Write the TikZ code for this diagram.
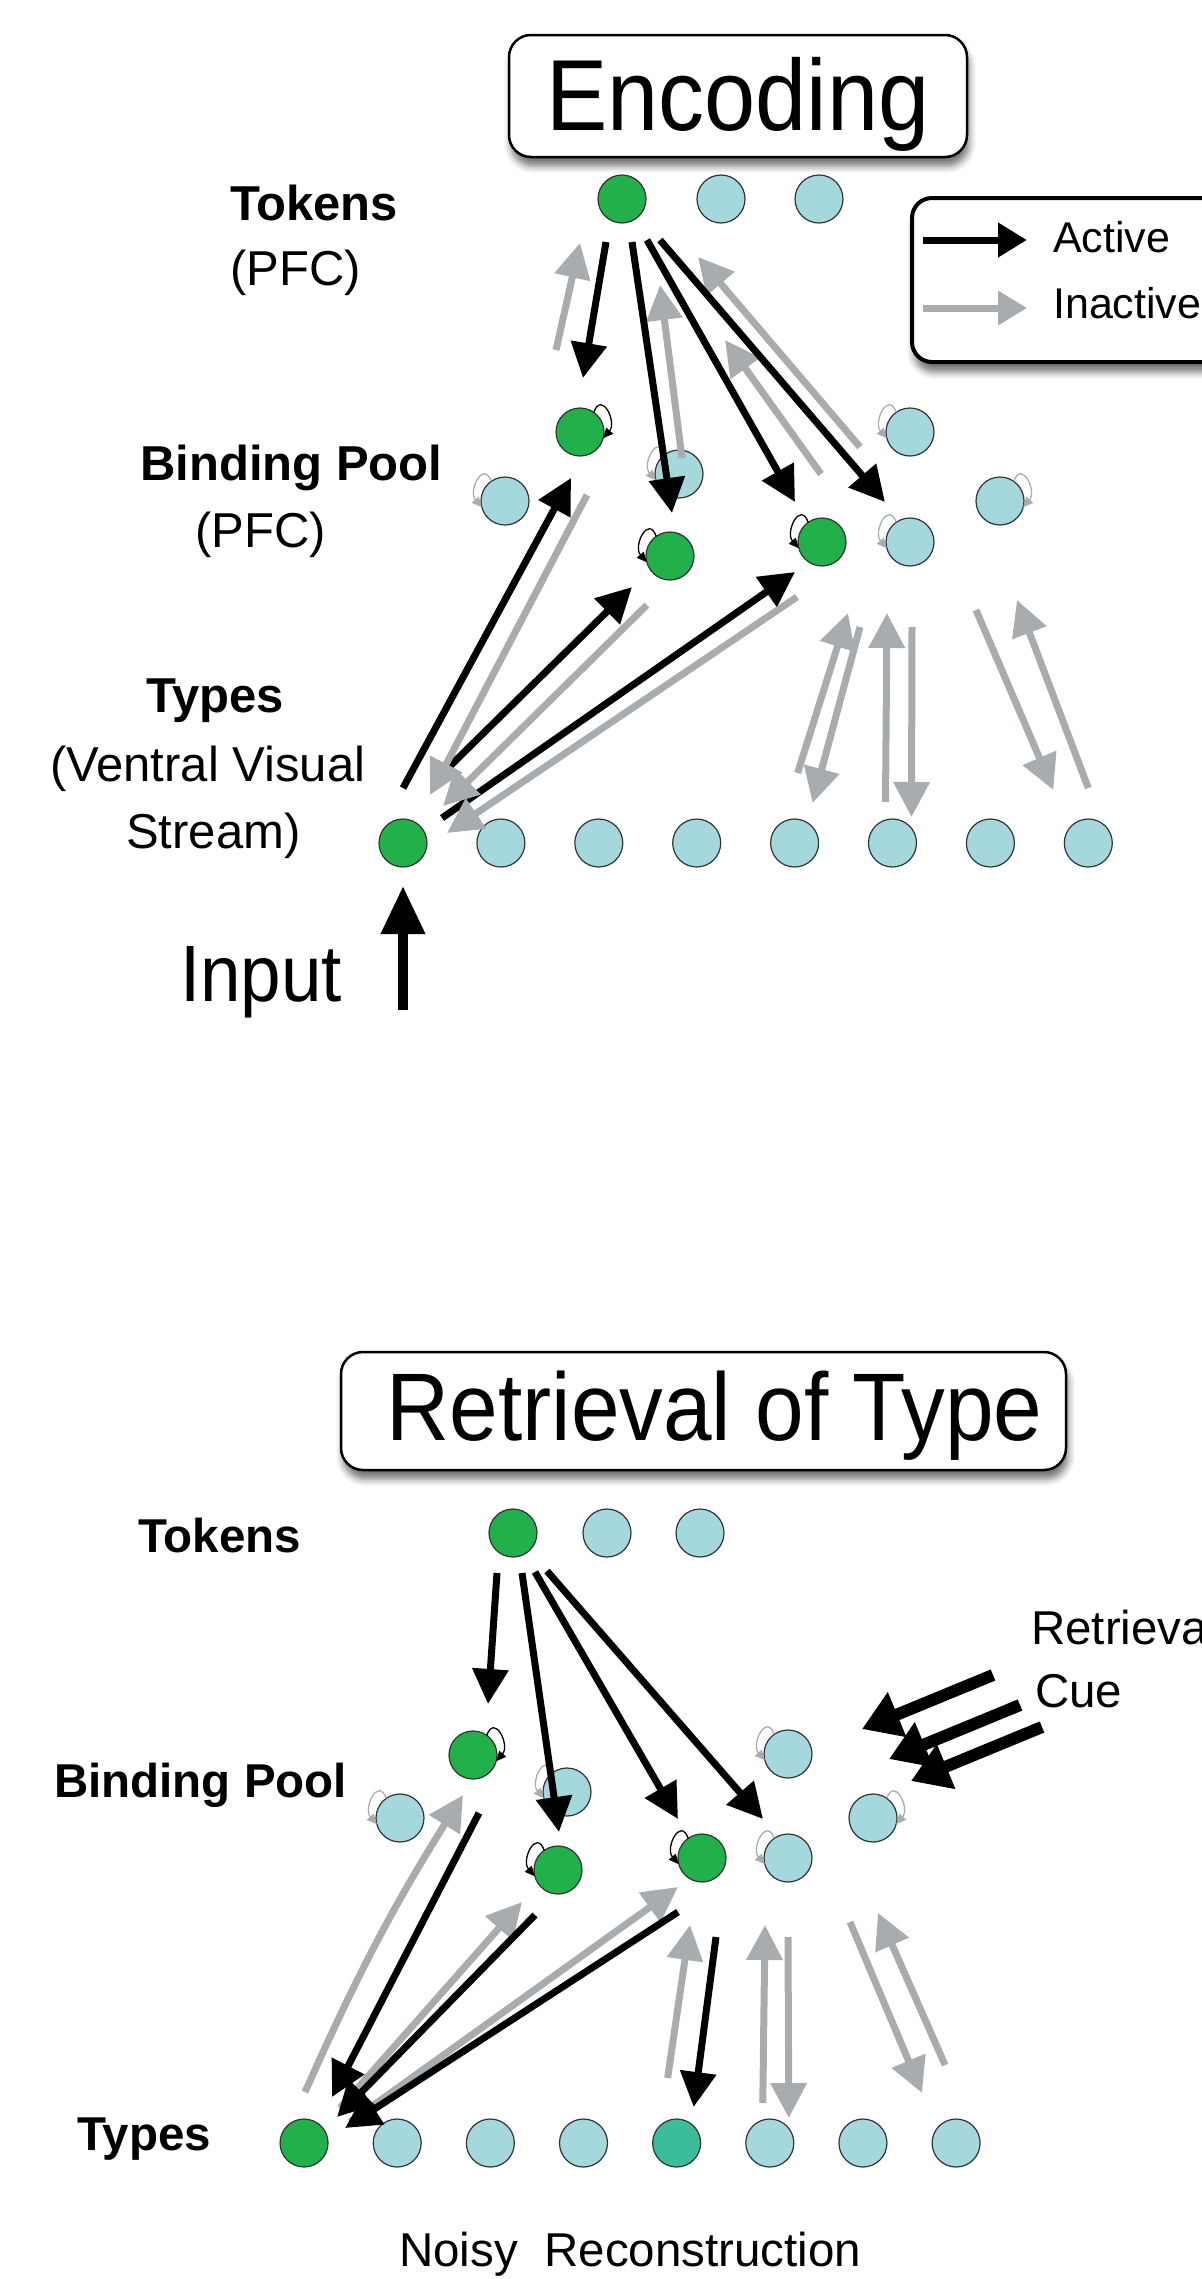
\documentclass[tikz,border=0pt]{standalone}
\usepackage{fontspec}
\setmainfont{Liberation Sans}
\newfontfamily\narrowfont{Liberation Sans}[FakeStretch=0.91]
\usetikzlibrary{arrows.meta,calc,shadows.blur}

\definecolor{livegreen}{RGB}{34,176,75}
\definecolor{idleblue}{RGB}{164,216,220}
\definecolor{noisyteal}{RGB}{59,189,156}
\definecolor{fadegrey}{RGB}{168,172,175}

\tikzset{
  unit/.style={circle,draw=black!80,line width=1.2pt,minimum size=48pt,inner sep=0pt,outer sep=0pt},
  live/.style={unit,fill=livegreen},
  idle/.style={unit,fill=idleblue},
  act/.style={line width=7pt,-{Triangle[length=35pt,width=35pt]}},
  inact/.style={act,fadegrey},
  cue/.style={line width=12pt,-{Triangle[length=38pt,width=46pt]}},
  inarr/.style={line width=10pt,-{Triangle[length=48pt,width=42pt]}},
  lpact/.style={line width=1.3pt,-{Triangle[length=10pt,width=9pt]}},
  lpinact/.style={lpact,fadegrey},
  titlebox/.style={draw,line width=2.5pt,rounded corners=22pt,fill=white,inner sep=0pt,outer sep=0pt,
    blur shadow={shadow xshift=2pt,shadow yshift=-9pt,shadow blur radius=7pt,shadow opacity=55}},
  legbox/.style={draw,line width=4pt,rounded corners=20pt,fill=white,inner sep=0pt,outer sep=0pt,
    blur shadow={shadow xshift=2pt,shadow yshift=-10pt,shadow blur radius=7pt,shadow opacity=55}},
  legtxt/.style={anchor=base west,inner sep=0pt,font=\fontsize{43}{50}\selectfont},
  lblb/.style={anchor=base west,inner sep=0pt,font=\fontsize{49}{58}\selectfont\bfseries},
  lblr/.style={anchor=base west,inner sep=0pt,font=\fontsize{49}{58}\selectfont},
  lblsm/.style={anchor=base west,inner sep=0pt,font=\fontsize{47.5}{56}\selectfont},
}

\begin{document}
\begin{tikzpicture}[x=1pt,y=-1pt]
\useasboundingbox (0,0) rectangle (1202,2279);

%%%%%%%%%% Encoding %%%%%%%%%%
\node[titlebox,minimum width=458pt,text height=95pt,text depth=27pt,
  font=\narrowfont\fontsize{101}{110}\selectfont] (enc) at (738,96) {Encoding};

% Legend
\node[legbox,anchor=north west,minimum width=380pt,minimum height=164pt] (leg) at (912,198) {};
\node[legtxt] (lact) at (1053,252) {Active};
\node[legtxt] (linact) at (1053,318) {Inactive};
\coordinate (lacts) at (923,240);
\coordinate (linacts) at (923,308);
\draw[act,-{Triangle[length=29pt,width=33pt]},shorten >=26pt] (lacts) -- (lacts -| lact.west);
\draw[inact,-{Triangle[length=29pt,width=33pt]},shorten >=26pt] (linacts) -- (linacts -| linact.west);

% Labels
\node[lblb] (tokA) at (230,220) {Tokens};
\node[lblr] (tokB) at (230,285) {(PFC)};
\node[lblb] (poolA) at (140,480) {Binding Pool};
\node[lblr] (poolB) at (195,547) {(PFC)};
\node[lblb] (typA) at (146,712) {Types};
\node[lblr] (typB) at (50,781) {(Ventral Visual};
\node[lblr] (typC) at (126,848) {Stream)};
\node[anchor=base west,inner sep=0pt,font=\narrowfont\fontsize{80}{90}\selectfont] (inp) at (180,1001) {Input};

% Tokens
\node[live] (t1) at (622,199) {};
\node[idle] (t2) at (721,199) {};
\node[idle] (t3) at (819,199) {};

% Binding pool
\node[live] (p1) at (580,432) {};
\node[idle] (p2) at (679,474) {};
\node[idle] (p3) at (505,501) {};
\node[live] (p4) at (670,556) {};
\node[live] (p5) at (822,542) {};
\node[idle] (p6) at (910,542) {};
\node[idle] (p7) at (910,432) {};
\node[idle] (p8) at (1000,501) {};

% Types
\foreach \i/\c in {1/livegreen,2/idleblue,3/idleblue,4/idleblue,5/idleblue,6/idleblue,7/idleblue,8/idleblue}
  \node[unit,fill=\c] (y\i) at ({305.1+97.9*\i},843) {};

% Self connections
\draw[lpact] (p1.55) .. controls +(8,-22) and +(14,-16) .. (p1.-15);
\draw[lpinact] (p8.55) .. controls +(8,-22) and +(14,-16) .. (p8.-15);
\foreach \n in {p4,p5}
  \draw[lpact] (\n.125) .. controls +(-8,-22) and +(-14,-16) .. (\n.195);
\foreach \n in {p2,p3,p6,p7}
  \draw[lpinact] (\n.125) .. controls +(-8,-22) and +(-14,-16) .. (\n.195);

% Tokens <-> binding pool
\draw[inact] ($(p1)+(-24,-82)$) -- ($(t1)+(-42,44)$);
\draw[inact] ($(p4)+(12,-98)$) -- ($(t1)+(38,86)$);
\draw[inact] ($(p5)+(-1,-68)$) -- ($(t1)+(103,141)$);
\draw[inact] ($(p6)+(-50,-95)$) -- ($(t1)+(76,58)$);
\draw[act] ($(t1)+(-16,43)$) -- ($(p1)+(3,-54)$);
\draw[act] ($(t1)+(10,43)$) -- ($(p4)+(2,-43)$);
\draw[act] ($(t1)+(25,41)$) -- ($(p5)+(-27,-40)$);
\draw[act] ($(t1)+(38,41)$) -- ($(p6)+(-25,-40)$);

% Binding pool <-> types
\draw[act] ($(y1)+(0,-55)$) -- ($(p1)+(-9,46)$);
\draw[act] ($(y1)+(45,-75)$) -- ($(p4)+(-38,31)$);
\draw[act] ($(y1)+(39,-25)$) -- ($(p5)+(-27,30)$);
\draw[inact] ($(p1)+(7,63)$) -- ($(y1)+(27,-48)$);
\draw[inact] ($(p4)+(-23,49)$) -- ($(y1)+(40,-37)$);
\draw[inact] ($(p5)+(-25,55)$) -- ($(y1)+(44,-10)$);
\draw[inact] ($(y5)+(3,-70)$) -- ($(p5)+(26,71)$);
\draw[inact] ($(p5)+(38,85)$) -- ($(y5)+(18,-40)$);
\draw[inact] ($(y6)+(-7,-41)$) -- ($(p6)+(-23,71)$);
\draw[inact] ($(p6)+(2,85)$) -- ($(y6)+(19,-26)$);
\draw[inact] ($(p8)+(-24,109)$) -- ($(y8)+(-35,-53)$);
\draw[inact] ($(y8)+(0,-55)$) -- ($(p8)+(17,99)$);

% Input
\coordinate (inbase) at (403,1010);
\draw[inarr,shorten >=19pt] (inbase) -- (y1);

%%%%%%%%%% Retrieval of Type %%%%%%%%%%
\node[titlebox,minimum width=725pt,text height=88pt,text depth=30pt,
  font=\narrowfont\fontsize{96}{106}\selectfont] (ret) at (703.5,1411) {\hspace*{22pt}Retrieval of Type};

% Labels
\node[lblb,font=\fontsize{47.5}{56}\selectfont\bfseries] (tokD) at (138,1552) {Tokens};
\node[lblb,font=\fontsize{47.5}{56}\selectfont\bfseries] (poolD) at (54,1797) {Binding Pool};
\node[lblb,font=\fontsize{47.5}{56}\selectfont\bfseries] (typD) at (77,2150) {Types};
\node[lblsm] (cueA) at (1031,1644) {Retrieval};
\node[lblsm] (cueB) at (1035,1707) {Cue};
\node[lblsm] (noisy) at (399,2266) {Noisy\ \ Reconstruction};

% Tokens
\node[live] (u1) at (513,1533) {};
\node[idle] (u2) at (607,1533) {};
\node[idle] (u3) at (700,1533) {};

% Binding pool
\node[live] (q1) at (473,1755) {};
\node[idle] (q2) at (567,1792) {};
\node[idle] (q3) at (400,1818) {};
\node[live] (q4) at (558,1870) {};
\node[live] (q5) at (702,1858) {};
\node[idle] (q6) at (788,1858) {};
\node[idle] (q7) at (788,1754) {};
\node[idle] (q8) at (873,1818) {};

% Types
\foreach \i/\c in {1/livegreen,2/idleblue,3/idleblue,4/idleblue,5/noisyteal,6/idleblue,7/idleblue,8/idleblue}
  \node[unit,fill=\c] (v\i) at ({210.9+93.15*\i},2143) {};

% Self connections
\draw[lpact] (q1.55) .. controls +(8,-22) and +(14,-16) .. (q1.-15);
\draw[lpinact] (q8.55) .. controls +(8,-22) and +(14,-16) .. (q8.-15);
\foreach \n in {q4,q5}
  \draw[lpact] (\n.125) .. controls +(-8,-22) and +(-14,-16) .. (\n.195);
\foreach \n in {q2,q3,q6,q7}
  \draw[lpinact] (\n.125) .. controls +(-8,-22) and +(-14,-16) .. (\n.195);

% Tokens -> binding pool
\draw[act] ($(u1)+(-16,40)$) -- ($(q1)+(15,-51)$);
\draw[act] ($(u1)+(9,40)$) -- ($(q4)+(1,-38)$);
\draw[act] ($(u1)+(22,39)$) -- ($(q5)+(-24,-39)$);
\draw[act] ($(u1)+(34,38)$) -- ($(q6)+(-25,-39)$);

% Retrieval cue
\foreach \i/\xa/\ya in {1/993/1675,2/1020/1705,3/1042/1727}{
  \coordinate (cuea\i) at (\xa,\ya);
  \coordinate (cueb\i) at (\xa-131,\ya+54);
  \draw[cue] (cuea\i) -- (cueb\i);
}

% Binding pool <-> types
\draw[inact] ($(v1)+(1,-51)$) to[bend left=4] ($(q1)+(-10,40)$);
\draw[inact] ($(v1)+(36,-35)$) -- ($(q4)+(-36,32)$);
\draw[inact] ($(v1)+(46,-21)$) -- ($(q5)+(-24,29)$);
\draw[act] ($(q1)+(6,58)$) -- ($(v1)+(28,-46)$);
\draw[act] ($(q4)+(-23,45)$) -- ($(v1)+(33,-26)$);
\draw[act] ($(q5)+(-24,54)$) -- ($(v1)+(41,-15)$);
\draw[inact] ($(v5)+(-9,-65)$) -- ($(q5)+(-12,67)$);
\draw[act] ($(q5)+(14,79)$) -- ($(v5)+(17,-36)$);
\draw[inact] ($(v6)+(-7,-40)$) -- ($(q6)+(-23,67)$);
\draw[inact] ($(q6)+(0,79)$) -- ($(v6)+(19,-25)$);
\draw[inact] ($(q8)+(-23,104)$) -- ($(v8)+(-34,-50)$);
\draw[inact] ($(v8)+(-11,-78)$) -- ($(q8)+(5,95)$);
\end{tikzpicture}
\end{document}
